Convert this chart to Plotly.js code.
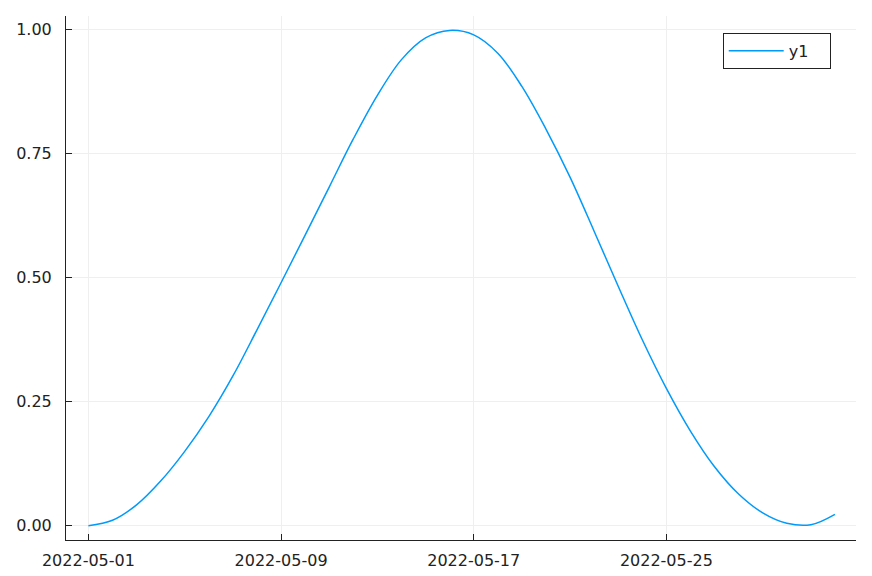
<!DOCTYPE html>
<html>
<head>
<meta charset="utf-8">
<script src="https://cdn.plot.ly/plotly-3.0.1.min.js"></script>
<style>html,body{margin:0;padding:0;background:#fff;}#chart{width:872px;height:576px;}</style>
</head>
<body>
<div id="chart"></div>
<script>
const dates = [
  "2022-05-01","2022-05-02","2022-05-03","2022-05-04","2022-05-05","2022-05-06","2022-05-07","2022-05-08",
  "2022-05-09","2022-05-10","2022-05-11","2022-05-12","2022-05-13","2022-05-14","2022-05-15","2022-05-16",
  "2022-05-17","2022-05-18","2022-05-19","2022-05-20","2022-05-21","2022-05-22","2022-05-23","2022-05-24",
  "2022-05-25","2022-05-26","2022-05-27","2022-05-28","2022-05-29","2022-05-30","2022-05-31","2022-06-01"
];
const y1 = [
  0.000, 0.011, 0.042, 0.090, 0.150, 0.220, 0.302, 0.395,
  0.490, 0.586, 0.683, 0.780, 0.868, 0.940, 0.984, 0.999,
  0.990, 0.953, 0.886, 0.800, 0.703, 0.594, 0.483, 0.375,
  0.277, 0.191, 0.119, 0.064, 0.026, 0.005, 0.002, 0.023
];
const seriesName = "y1";
const xTickVals = ["2022-05-01","2022-05-09","2022-05-17","2022-05-25"];
const xTickText = ["2022-05-01","2022-05-09","2022-05-17","2022-05-25"];
const yTickVals = [0, 0.25, 0.5, 0.75, 1.0];
const yTickText = ["0.00","0.25","0.50","0.75","1.00"];

const font = {family: "DejaVu Sans", size: 16, color: "#222222"};

const trace = {
  x: dates, y: y1, type: "scatter", mode: "lines", name: seriesName,
  line: {color: "#009afa", width: 1.5, shape: "spline", smoothing: 1}
};

const layout = {
  width: 872, height: 576,
  margin: {l: 66, r: 16, t: 16, b: 36, pad: 0},
  paper_bgcolor: "#ffffff", plot_bgcolor: "#ffffff",
  font: font,
  showlegend: true,
  legend: {
    orientation: "h",
    x: 0.968, y: 0.968, xanchor: "right", yanchor: "top",
    bordercolor: "#222222", borderwidth: 1, bgcolor: "#ffffff",
    itemwidth: 55, entrywidth: 36,
    font: {family: "DejaVu Sans", size: 16, color: "#222222"}
  },
  xaxis: {
    type: "date",
    range: ["2022-04-30 01:40", "2022-06-01 21:00"],
    tickmode: "array", tickvals: xTickVals, ticktext: xTickText,
    ticks: "inside", ticklen: 6, tickcolor: "#222222", tickwidth: 1,
    showline: true, linecolor: "#222222", linewidth: 1, mirror: false,
    showgrid: true, gridcolor: "#efefef", gridwidth: 1,
    zeroline: false, tickfont: font, ticklabelstandoff: 6
  },
  yaxis: {
    range: [-0.0288, 1.028],
    tickmode: "array", tickvals: yTickVals, ticktext: yTickText,
    ticks: "inside", ticklen: 6, tickcolor: "#222222", tickwidth: 1,
    showline: true, linecolor: "#222222", linewidth: 1, mirror: false,
    showgrid: true, gridcolor: "#efefef", gridwidth: 1,
    zeroline: false, tickfont: font, ticklabelstandoff: 10
  }
};

Plotly.newPlot("chart", [trace], layout, {displayModeBar: false, staticPlot: true});
</script>
</body>
</html>
